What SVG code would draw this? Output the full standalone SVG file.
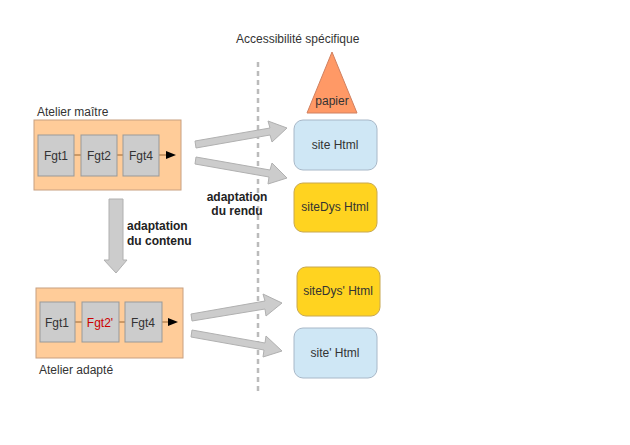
<svg xmlns="http://www.w3.org/2000/svg" width="630" height="445" viewBox="0 0 630 445">
<style>
text{font-family:"Liberation Sans",Arial,sans-serif;font-size:12px;fill:#333}
.atl{fill:#ffcc99;stroke:#c8a080;stroke-width:1}
.fgt{fill:#cccccc;stroke:#999;stroke-width:1}
.blk{fill:#cccccc;stroke:#b0b0b0;stroke-width:1}
.blue{fill:#cfe7f5;stroke:#a8b8c8}
.yel{fill:#ffd320;stroke:#c8a850}
.b{font-weight:bold;fill:#222}
</style>
<rect width="630" height="445" fill="#fff"/>
<text x="236" y="43">Accessibilité spécifique</text>
<line x1="258" y1="62" x2="258" y2="392" stroke="#bbb" stroke-width="2.5" stroke-dasharray="5,4"/>
<g id="atelier-maitre">
<text x="37" y="116">Atelier maître</text>
<rect class="atl" x="34" y="120" width="147" height="70"/>
<line x1="74" y1="155" x2="166" y2="155" stroke="#996633"/>
<polygon points="166,151 176,155 166,159" fill="#000"/>
<rect class="fgt" x="38" y="135" width="36" height="41"/><text x="56" y="160" text-anchor="middle">Fgt1</text>
<rect class="fgt" x="81" y="135" width="36" height="41"/><text x="99" y="160" text-anchor="middle">Fgt2</text>
<rect class="fgt" x="123" y="135" width="36" height="41"/><text x="141" y="160" text-anchor="middle">Fgt4</text>
</g>
<g id="atelier-adapte">
<rect class="atl" x="36" y="288" width="147" height="70"/>
<line x1="75" y1="322" x2="168" y2="322" stroke="#996633"/>
<polygon points="168,318 178,322 168,326" fill="#000"/>
<rect class="fgt" x="40" y="302" width="35" height="40"/><text x="57" y="327" text-anchor="middle">Fgt1</text>
<rect class="fgt" x="82" y="302" width="37" height="40"/><text x="100" y="327" text-anchor="middle" style="fill:#c00">Fgt2'</text>
<rect class="fgt" x="125" y="302" width="37" height="40"/><text x="143" y="327" text-anchor="middle">Fgt4</text>
<text x="39" y="374">Atelier adapté</text>
</g>
<g id="papier"><polygon points="332,52 357,113 307,113" fill="#ff9966" stroke="#d08060"/><text x="332" y="105" text-anchor="middle">papier</text></g>
<g id="site-html"><rect class="blue" x="294" y="120" width="83" height="50" rx="9"/><text x="335" y="149" text-anchor="middle">site Html</text></g>
<g id="sitedys-html"><rect class="yel" x="294" y="183" width="83" height="49" rx="9"/><text x="335" y="211" text-anchor="middle">siteDys Html</text></g>
<g id="sitedys2-html"><rect class="yel" x="297" y="267" width="83" height="49" rx="9"/><text x="338" y="295" text-anchor="middle">siteDys' Html</text></g>
<g id="site2-html"><rect class="blue" x="294" y="328" width="83" height="50" rx="9"/><text x="335" y="357" text-anchor="middle">site' Html</text></g>
<g id="connectors">
<polygon class="blk" points="195,141 270,128 268,121 287,128 272,142 270,135 196,148"/>
<polygon class="blk" points="196,157 270,170 272,163 287,178 268,184 269,177 195,164"/>
<polygon class="blk" points="191,314 265,301 263,294 282,303 266,316 265,309 192,321"/>
<polygon class="blk" points="192,330 265,343 266,336 282,351 263,357 264,350 191,337"/>
<polygon class="blk" points="109,199 123,199 123,260 127,260 116,273 104,260 109,260"/>
<text class="b" x="237" y="201" text-anchor="middle">adaptation</text>
<text class="b" x="237" y="215" text-anchor="middle">du rendu</text>
<text class="b" x="127" y="230">adaptation</text>
<text class="b" x="127" y="245">du contenu</text>
</g>
</svg>
